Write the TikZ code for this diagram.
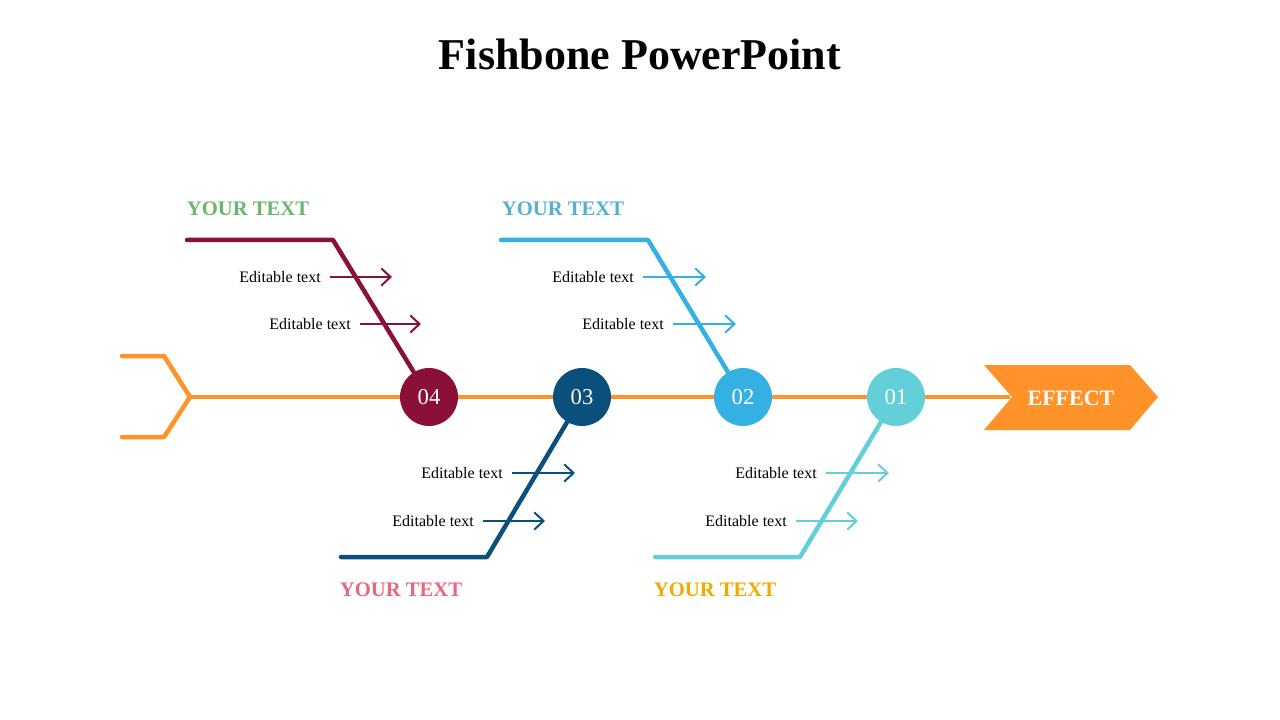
\documentclass[tikz,border=0pt]{standalone}
\usepackage{fontspec}
\setmainfont{Liberation Serif}
\usetikzlibrary{arrows.meta}
\definecolor{cor}{HTML}{FF9229}
\definecolor{c4}{HTML}{8B1038}
\definecolor{c3}{HTML}{0B4F7C}
\definecolor{c2}{HTML}{35B0E2}
\definecolor{c1}{HTML}{62CFD9}
\definecolor{lg}{HTML}{6BB56E}
\definecolor{lb}{HTML}{56B0D0}
\definecolor{lp}{HTML}{E8677A}
\definecolor{ly}{HTML}{F2A900}
\tikzset{
 bone/.style={line width=4.5pt*0.75,line cap=round,line join=round},
 sub/.style={line width=2pt*0.75,-{Straight Barb[length=7pt,width=13pt,line width=1.5pt]}},
 num/.style={circle,minimum size=58pt*0.75,inner sep=0pt,text=white,font=\fontsize{17}{17}\selectfont},
 ed/.style={anchor=east,font=\fontsize{12}{12}\selectfont,inner sep=0pt},
 yt/.style={font=\bfseries\fontsize{15.5}{16}\selectfont,inner sep=0pt}
}
\begin{document}
\begin{tikzpicture}[x=0.75pt,y=-0.75pt]
\useasboundingbox (0,0) rectangle (1280,720);
\node[font=\bfseries\fontsize{33}{33}\selectfont] (title) at (640,54) {Fishbone PowerPoint};
% spine
\coordinate (sp0) at (190,397); \coordinate (sp1) at (1010,397);
\draw[cor,line width=2.3pt] (sp0) -- (sp1);
\coordinate (t1) at (122,356); \coordinate (t2) at (164,356); \coordinate (t3) at (164,437); \coordinate (t4) at (122,437);
\draw[cor,bone] (t1) -- (t2) -- (sp0) -- (t3) -- (t4);
% effect
\fill[cor] (984,365) -- (1130,365) -- (1158,397) -- (1130,430) -- (984,430) -- (1012,397) -- cycle;
\node[text=white,font=\bfseries\fontsize{16.5}{17}\selectfont] (eff) at (1071,398) {EFFECT};
% bones
\coordinate (b4a) at (187,240); \coordinate (b4b) at (333,240);
\coordinate (b2a) at (501,240); \coordinate (b2b) at (648,240);
\coordinate (b3a) at (341,557); \coordinate (b3b) at (487,557);
\coordinate (b1a) at (655,557); \coordinate (b1b) at (800,557);
\node[num,fill=c4] (n4) at (429,397) {04};
\node[num,fill=c3] (n3) at (582,397) {03};
\node[num,fill=c2] (n2) at (743,397) {02};
\node[num,fill=c1] (n1) at (896,397) {01};
\draw[c4,bone] (b4a) -- (b4b) -- (n4);
\draw[c2,bone] (b2a) -- (b2b) -- (n2);
\draw[c3,bone] (b3a) -- (b3b) -- (n3);
\draw[c1,bone] (b1a) -- (b1b) -- (n1);
% sub arrows
\foreach \c/\xa/\xb/\y/\n in {c4/330/392/277/a, c4/360/421/324/b, c2/643/706/277/c, c2/673/736/324/d, c3/512/575/473/e, c3/483/545/521/f, c1/826/889/473/g, c1/796/858/521/h}{
  \coordinate (s\n) at (\xa,\y); \coordinate (e\n) at (\xb,\y);
  \draw[\c,sub] (s\n) -- (e\n);
  \node[ed] (l\n) at (\xa-9,\y) {Editable text};
}
\node[yt,text=lg] (y1) at (248,209) {YOUR TEXT};
\node[yt,text=lb] (y2) at (563,209) {YOUR TEXT};
\node[yt,text=lp] (y3) at (401,590) {YOUR TEXT};
\node[yt,text=ly] (y4) at (715,590) {YOUR TEXT};
\end{tikzpicture}
\end{document}
